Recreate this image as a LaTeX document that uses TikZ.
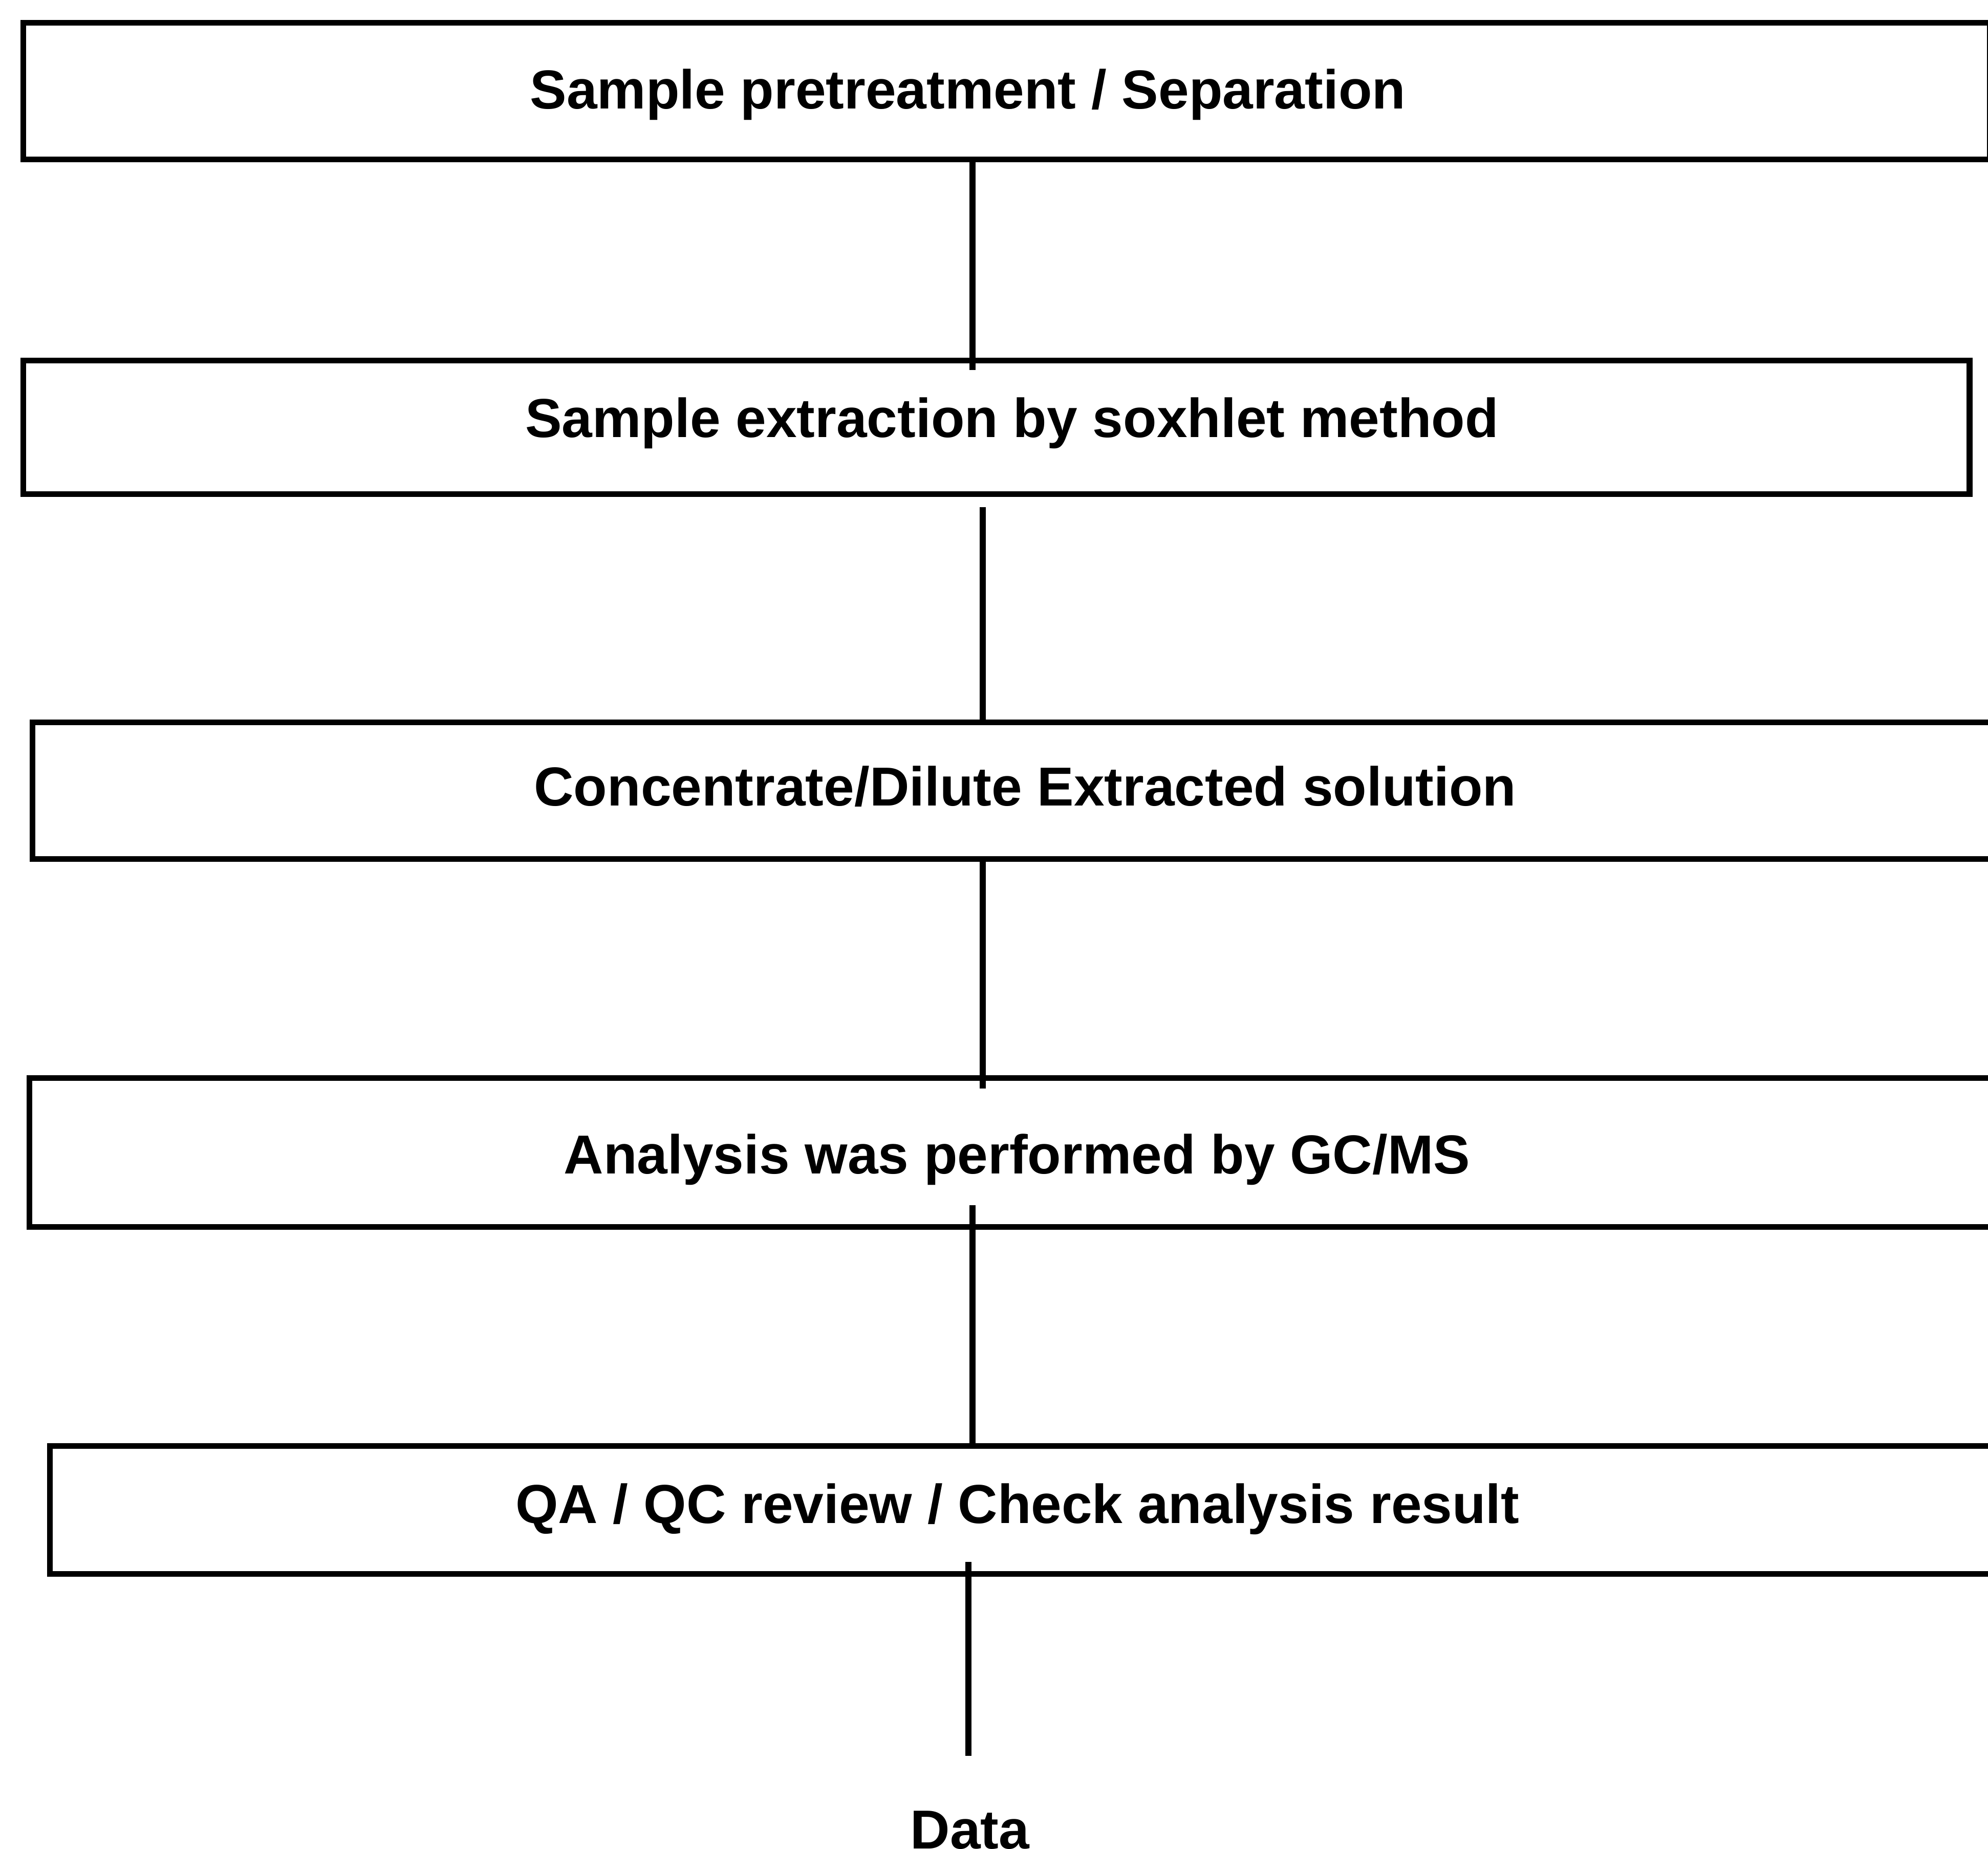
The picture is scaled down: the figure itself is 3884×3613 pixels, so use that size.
\documentclass[tikz,border=0pt]{standalone}
\usepackage{fontspec}
\setmainfont{Liberation Sans}
\begin{document}
\begin{tikzpicture}[x=0.01cm,y=-0.01cm,
  box/.style={draw, line width=3.2pt, inner sep=0pt, anchor=north west},
  lbl/.style={font=\fontsize{30.5}{36}\selectfont\bfseries, anchor=base, inner sep=0pt},
  link/.style={line width=3.2pt}]
\useasboundingbox (0,0) rectangle (3884,3613);
\clip (0,0) rectangle (3884,3613);
\fill[white] (0,0) rectangle (3884,3613);
% boxes
\node[box, minimum width=38.40cm, minimum height=2.67cm] (b1) at (40,39) {};
\node[box, minimum width=38.00cm, minimum height=2.61cm] (b2) at (40,699) {};
\node[box, minimum width=38.90cm, minimum height=2.67cm] (b3) at (58,1406) {};
\node[box, minimum width=38.97cm, minimum height=2.91cm] (b4) at (52,2101) {};
\node[box, minimum width=38.57cm, minimum height=2.50cm] (b5) at (92,2820) {};
% labels
\node[lbl] (t1) at (1891,213) {Sample pretreatment / Separation};
\node[lbl] (t2) at (1977,855) {Sample extraction by soxhlet method};
\node[lbl] (t3) at (2003,1574) {Concentrate/Dilute Extracted solution};
\node[lbl] (t4) at (1987,2293) {Analysis was performed by GC/MS};
\node[lbl] (t5) at (1988,2976) {QA / QC review / Check analysis result};
\node[lbl] (t6) at (1895,3612) {Data};
% connector end points
\coordinate (k1) at (1900,723);
\coordinate (k2a) at (1920,991);
\coordinate (k3) at (1920,2127);
\coordinate (k4a) at (1900,2355);
\coordinate (k5a) at (1892,3052);
\coordinate (k5b) at (1892,3431);
% connectors
\draw[link] (b1.south -| k1) -- (k1);
\draw[link] (k2a) -- (k2a |- b3.north);
\draw[link] (b3.south -| k3) -- (k3);
\draw[link] (k4a) -- (k4a |- b5.north);
\draw[link] (k5a) -- (k5b);
\end{tikzpicture}
\end{document}
